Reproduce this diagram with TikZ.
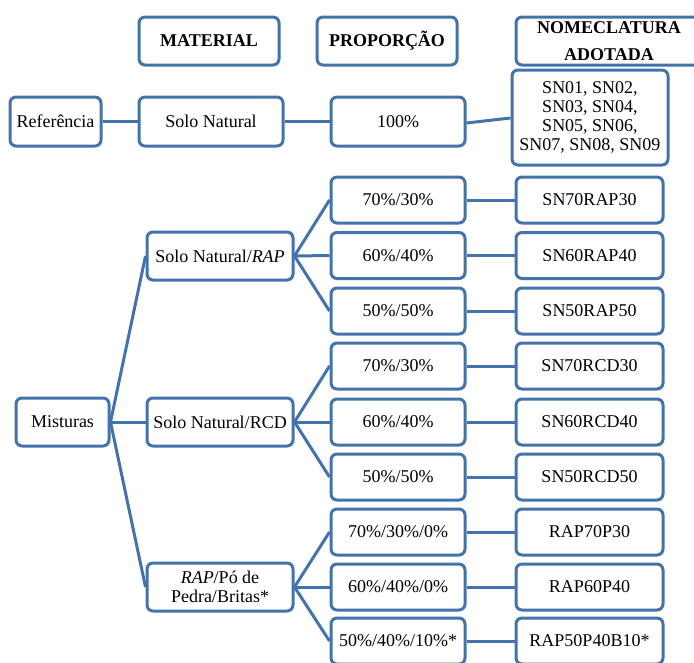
\documentclass[tikz,border=0pt]{standalone}
\usepackage{fontspec}
\setmainfont{Liberation Serif}
\definecolor{boxblue}{RGB}{68,114,170}
\begin{document}
\begin{tikzpicture}[x=1pt,y=-1pt,
  box/.style={draw=boxblue,line width=3pt,rounded corners=6pt,fill=white,
    align=center,inner sep=1pt,font=\fontsize{18}{19}\selectfont},
  lnk/.style={draw=boxblue,line width=3pt}]
\useasboundingbox (0,0) rectangle (694,662);
% headers
\node[box,minimum width=140pt,minimum height=48pt,font=\fontsize{18}{19}\selectfont\bfseries] (hmat) at (209,41) {MATERIAL};
\node[box,minimum width=140pt,minimum height=48pt,font=\fontsize{18}{19}\selectfont\bfseries] (hprop) at (387,41) {PROPORÇÃO};
\node[box,minimum width=186pt,minimum height=48pt,inner sep=0pt,font=\fontsize{18}{26.5}\selectfont\bfseries] (hnom) at (609,41) {NOMECLATURA\\ADOTADA};
% reference row
\node[box,minimum width=91pt,minimum height=49pt] (ref) at (55.5,121.5) {Referência};
\node[box,minimum width=144pt,minimum height=49pt] (solo) at (211,121.5) {Solo Natural};
\node[box,minimum width=134pt,minimum height=49pt] (p100) at (398,121.5) {100\%};
\node[box,minimum width=156pt,minimum height=95pt] (sn) at (590,117.5) {SN01, SN02,\\SN03, SN04,\\SN05, SN06,\\SN07, SN08, SN09};
\draw[lnk] (ref.east) -- (solo.west);
\draw[lnk] (solo.east) -- (p100.west);
\draw[lnk] ([yshift=-1.5pt]p100.east) -- ([yshift=-0.5pt]sn.west);
% mixtures
\node[box,minimum width=93pt,minimum height=48pt] (mist) at (62.5,422) {Misturas};
\node[box,minimum width=146pt,minimum height=48pt] (mrap) at (220,256) {Solo Natural/\textit{RAP}};
\node[box,minimum width=146pt,minimum height=48pt] (mrcd) at (220,422) {Solo Natural/RCD};
\node[box,minimum width=146pt,minimum height=48pt] (mpo) at (220,587) {\textit{RAP}/Pó de\\Pedra/Britas*};
\draw[lnk] (mist.east) -- (mrap.west);
\draw[lnk] (mist.east) -- (mrcd.west);
\draw[lnk] (mist.east) -- (mpo.west);
% proportions
\foreach \n/\y/\t in {pa/200/{70\%/30\%}, pb/255.5/{60\%/40\%}, pc/311/{50\%/50\%},
                      pd/366/{70\%/30\%}, pe/422/{60\%/40\%}, pf/477/{50\%/50\%},
                      pg/532/{70\%/30\%/0\%}, ph/587/{60\%/40\%/0\%}, pi/641/{50\%/40\%/10\%*}}
  {\node[box,minimum width=134pt,minimum height=46pt] (\n) at (398,\y) {\t};}
% nomenclatures
\node[box,minimum width=147pt,minimum height=46pt] (na) at (589.5,200) {SN70RAP30};
\node[box,minimum width=147pt,minimum height=46pt] (nb) at (589.5,255.5) {SN60RAP40};
\node[box,minimum width=147pt,minimum height=46pt] (nc) at (589.5,311) {SN50RAP50};
\node[box,minimum width=147pt,minimum height=46pt] (nd) at (589.5,366) {SN70RCD30};
\node[box,minimum width=147pt,minimum height=46pt] (ne) at (589.5,422) {SN60RCD40};
\node[box,minimum width=147pt,minimum height=46pt] (nf) at (589.5,477) {SN50RCD50};
\node[box,minimum width=147pt,minimum height=46pt] (ng) at (589.5,532) {RAP70P30};
\node[box,minimum width=147pt,minimum height=46pt] (nh) at (589.5,587) {RAP60P40};
\node[box,minimum width=147pt,minimum height=46pt] (ni) at (589.5,641) {RAP50P40B10*};
% links material -> proportion
\foreach \m/\a/\b/\c in {mrap/pa/pb/pc, mrcd/pd/pe/pf, mpo/pg/ph/pi}
  {\draw[lnk] (\m.east) -- (\a.west); \draw[lnk] (\m.east) -- (\b.west); \draw[lnk] (\m.east) -- (\c.west);}
% links proportion -> nomenclature
\foreach \p/\q in {pa/na, pb/nb, pc/nc, pd/nd, pe/ne, pf/nf, pg/ng, ph/nh, pi/ni}
  {\draw[lnk] (\p.east) -- (\q.west);}
\end{tikzpicture}
\end{document}
